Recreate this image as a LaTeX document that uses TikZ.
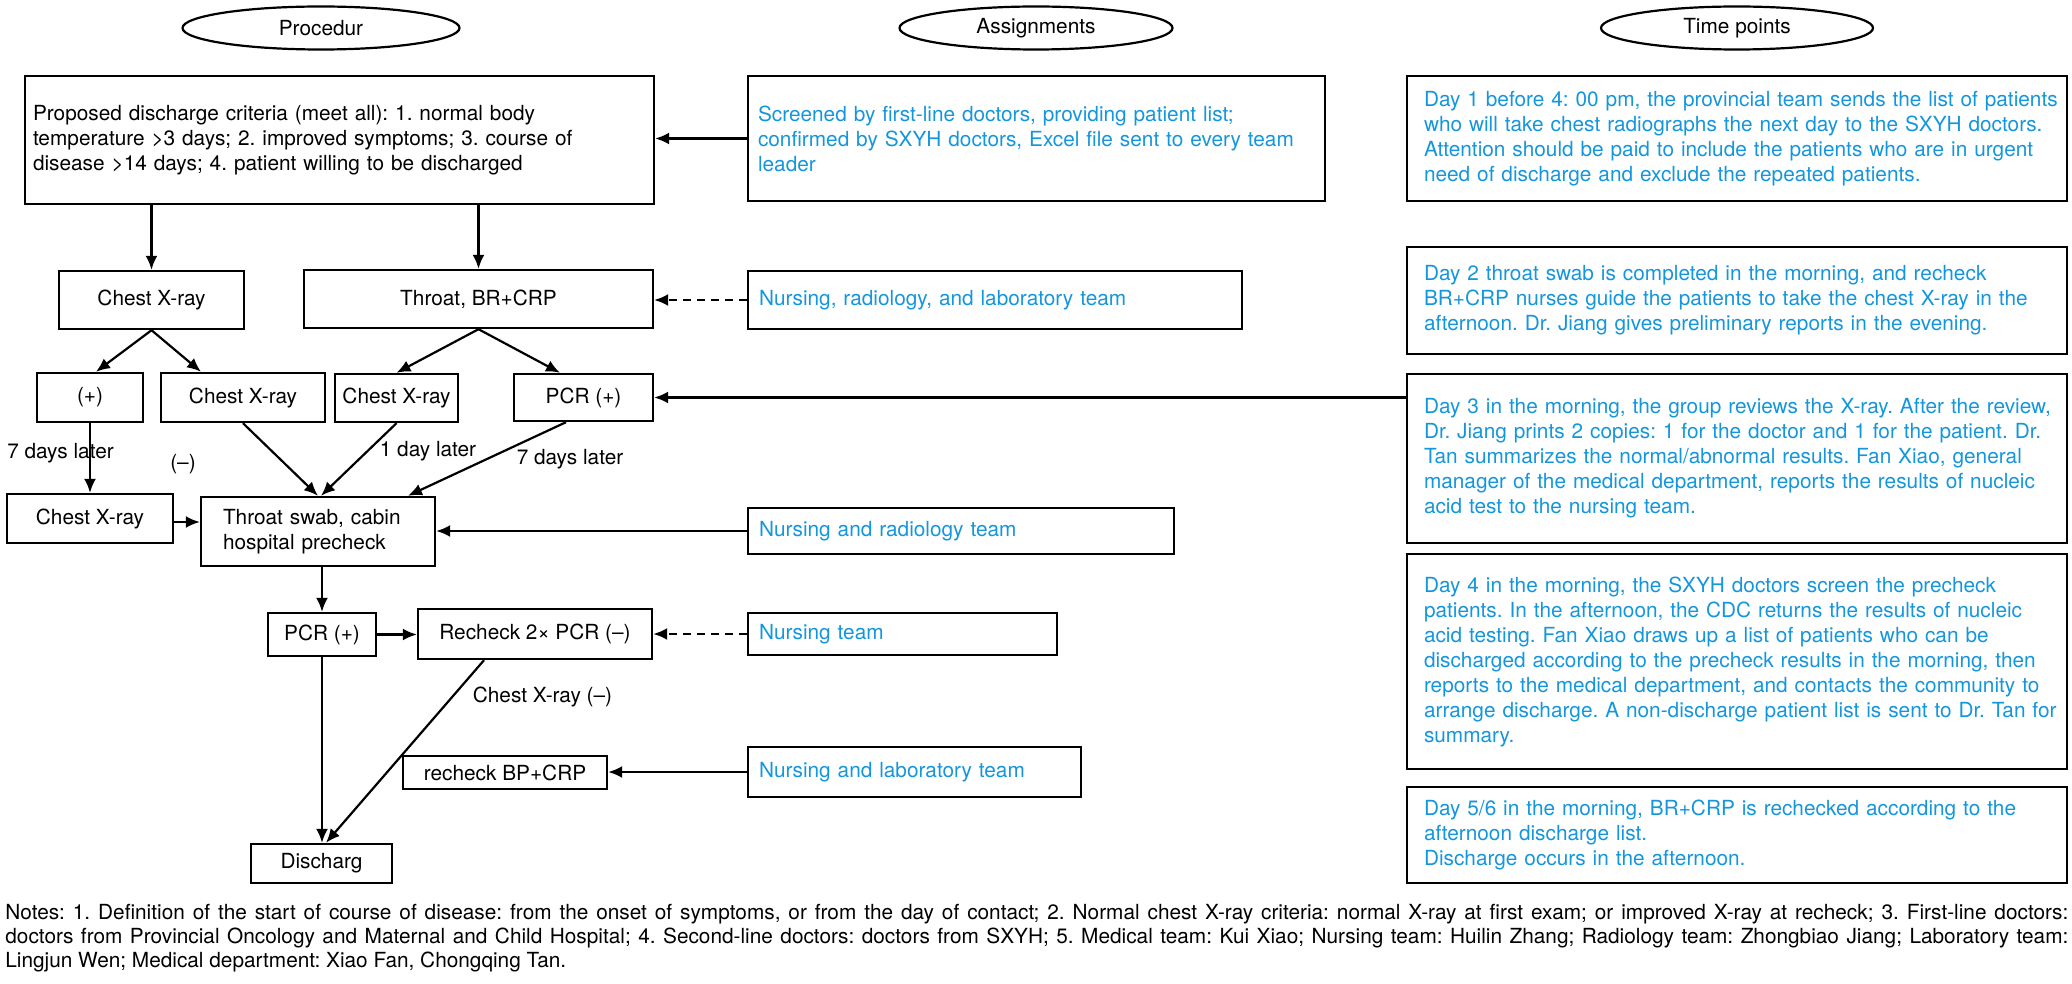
\documentclass[tikz,border=0pt]{standalone}
\usepackage{fontspec}
\setmainfont{TeX Gyre Heros}
\usetikzlibrary{arrows.meta,shapes.geometric}
\definecolor{tblue}{RGB}{20,150,220}
\newcommand{\mfs}{\fontsize{10.4pt}{12.5pt}\selectfont}
\newcommand{\nfs}{\fontsize{10.4pt}{12pt}\selectfont}
\newcommand{\ml}[1]{\mbox{#1}}
\frenchspacing
\begin{document}
\begin{tikzpicture}[x=0.5pt,y=-0.5pt,
  every node/.style={font=\mfs, inner sep=0pt},
  box/.style={draw, line width=1.2pt},
  sz/.style 2 args={minimum width=#1, minimum height=#2},
  oval/.style={draw, line width=1.1pt, ellipse},
  bbox/.style 2 args={box, text=tblue, align=left, inner xsep=#1, text width=#2},
  kbox/.style 2 args={box, align=left, inner xsep=#1, text width=#2},
  conn/.style={line width=1.1pt, -{Latex[length=7pt,width=6pt]}},
  dconn/.style={conn, dash pattern=on 4pt off 3pt}
]
\useasboundingbox (0,0) rectangle (2072,984);

% header ellipses
\node[oval, sz={138.5pt}{21.5pt}] (e1) at (321,28) {Procedur};
\node[oval, sz={136.5pt}{21.5pt}] (e2) at (1036,28) {Assignments};
\node[oval, sz={136pt}{21.5pt}] (e3) at (1737,28) {Time points};

% row 1
\node[kbox={4pt}{306.5pt}, sz={314.5pt}{64pt}] (crit) at (339.5,140) {\ml{Proposed discharge criteria (meet all): 1. normal body}\\\ml{temperature >3 days; 2. improved symptoms; 3. course of}\\\ml{disease >14 days; 4. patient willing to be discharged}};
\node[bbox={5pt}{278.5pt}, sz={288.5pt}{62.5pt}] (scr) at (1036.5,138.5) {\ml{Screened by first-line doctors, providing patient list;}\\\ml{confirmed by SXYH doctors, Excel file sent to every team}\\\ml{leader}};
\node[bbox={8.5pt}{313pt}, sz={330pt}{62.5pt}] (day1) at (1737,138.5) {\ml{Day 1 before 4: 00 pm, the provincial team sends the list of patients}\\\ml{who will take chest radiographs the next day to the SXYH doctors.}\\\ml{Attention should be paid to include the patients who are in urgent}\\\ml{need of discharge and exclude the repeated patients.}};

% row 2
\node[box, sz={92.5pt}{29pt}] (cx1) at (151.5,300) {Chest X-ray};
\node[box, sz={174.5pt}{29pt}] (thr) at (478.5,299) {Throat, BR+CRP};
\node[bbox={5.5pt}{236pt}, sz={247pt}{29pt}] (nrl) at (995,300) {Nursing, radiology, and laboratory team};
\node[bbox={8.5pt}{313pt}, sz={330pt}{53.5pt}] (day2) at (1737,300.5) {\ml{Day 2 throat swab is completed in the morning, and recheck}\\\ml{BR+CRP nurses guide the patients to take the chest X-ray in the}\\\ml{afternoon. Dr. Jiang gives preliminary reports in the evening.}};

% row 3
\node[box, sz={53pt}{24.5pt}] (pos) at (90,397.5) {(+)};
\node[box, sz={82pt}{24.5pt}] (cx2) at (243,397.5) {Chest X-ray};
\node[box, sz={61.5pt}{24pt}] (cx3) at (396.5,398) {Chest X-ray};
\node[box, sz={69.5pt}{23.5pt}] (pcr1) at (583.5,397.5) {PCR (+)};
\node[bbox={8.5pt}{313pt}, sz={330pt}{84.5pt}] (day3) at (1737,458.5) {\ml{Day 3 in the morning, the group reviews the X-ray. After the review,}\\\ml{Dr. Jiang prints 2 copies: 1 for the doctor and 1 for the patient. Dr.}\\\ml{Tan summarizes the normal/abnormal results. Fan Xiao, general}\\\ml{manager of the medical department, reports the results of nucleic}\\\ml{acid test to the nursing team.}};

% row 4
\node[box, sz={83pt}{24.5pt}] (cx4) at (90,518.5) {Chest X-ray};
\node[kbox={11pt}{95pt}, sz={117pt}{34.5pt}] (ts) at (318,531.5) {\ml{Throat swab, cabin}\\\ml{hospital precheck}};
\node[bbox={5.5pt}{202pt}, sz={213pt}{23pt}] (nr) at (961,531) {Nursing and radiology team};
\node[bbox={8.5pt}{313pt}, sz={330pt}{107.5pt}] (day4) at (1737,661.5) {\ml{Day 4 in the morning, the SXYH doctors screen the precheck}\\\ml{patients. In the afternoon, the CDC returns the results of nucleic}\\\ml{acid testing. Fan Xiao draws up a list of patients who can be}\\\ml{discharged according to the precheck results in the morning, then}\\\ml{reports to the medical department, and contacts the community to}\\\ml{arrange discharge. A non-discharge patient list is sent to Dr. Tan for}\\\ml{summary.}};

% row 5
\node[box, sz={54pt}{21.5pt}] (pcr2) at (322,634.5) {PCR (+)};
\node[box, sz={117pt}{25pt}] (rchk) at (535,634) {Recheck 2× PCR (–)};
\node[bbox={5.5pt}{143.5pt}, sz={154.5pt}{21pt}] (nt) at (902.5,634) {Nursing team};

% row 6
\node[box, sz={102pt}{16.5pt}] (bp) at (505,772.5) {recheck BP+CRP};
\node[bbox={5.5pt}{155.5pt}, sz={166.5pt}{25pt}] (nl) at (914.5,772) {Nursing and laboratory team};
\node[bbox={8.5pt}{313pt}, sz={330pt}{48pt}] (day56) at (1737,835) {\ml{Day 5/6 in the morning, BR+CRP is rechecked according to the}\\\ml{afternoon discharge list.}\\\ml{Discharge occurs in the afternoon.}};

% row 7
\node[box, sz={70.5pt}{19.5pt}] (dis) at (321.5,863.5) {Discharg};

% labels
\node (l7a) at (60.5,453) {7 days later};
\node (lneg) at (183,464) {(–)};
\node (l1d) at (428,451) {1 day later};
\node (l7b) at (570,459) {7 days later};
\node (lcx) at (542.5,697) {Chest X-ray (–)};

% connectors
\draw[conn] (cx1.north |- crit.south) -- (cx1.north);
\draw[conn] (thr.north |- crit.south) -- (thr.north);
\draw[conn] (scr.west) -- (scr.west -| crit.east);
\draw[dconn] (nrl.west) -- (nrl.west -| thr.east);
\draw[conn] (cx1.south) -- ([xshift=3pt]pos.north);
\draw[conn] (cx1.south) -- ([xshift=-21pt]cx2.north);
\draw[conn] (thr.south) -- (cx3.north);
\draw[conn] (thr.south) -- ([xshift=-11.75pt]pcr1.north);
\draw[conn] (pos.south) -- (cx4.north);
\draw[conn] ([yshift=-1.75pt]cx4.east) -- ([yshift=-1.75pt]cx4.east -| ts.west);
\draw[conn] (cx2.south) -- (ts.north);
\draw[conn] (cx3.south) -- ([xshift=1.5pt]ts.north);
\draw[conn] ([xshift=-8.75pt]pcr1.south) -- ([xshift=45pt]ts.north);
\draw[conn] (nr.west) -- (nr.west -| ts.east);
\draw[conn] (pcr1.east -| day3.west) -- (pcr1.east);
\draw[conn] (pcr2.north |- ts.south) -- (pcr2.north);
\draw[conn] (pcr2.east) -- (pcr2.east -| rchk.west);
\draw[dconn] (nt.west) -- (nt.west -| rchk.east);
\draw[conn] (pcr2.south) -- (pcr2.south |- dis.north);
\draw[conn] ([xshift=-25.5pt]rchk.south) -- ([xshift=2.25pt]dis.north);
\draw[conn] (nl.west) -- (nl.west -| bp.east);

% notes
\node[anchor=north west, align=left, font=\nfs] (notes) at (5,904) {%
\makebox[1031.5pt][s]{Notes: 1. Definition of the start of course of disease: from the onset of symptoms, or from the day of contact; 2. Normal chest X-ray criteria: normal X-ray at first exam; or improved X-ray at recheck; 3. First-line doctors:}\\
\makebox[1031.5pt][s]{doctors from Provincial Oncology and Maternal and Child Hospital; 4. Second-line doctors: doctors from SXYH; 5. Medical team: Kui Xiao; Nursing team: Huilin Zhang; Radiology team: Zhongbiao Jiang; Laboratory team:}\\
Lingjun Wen; Medical department: Xiao Fan, Chongqing Tan.};
\end{tikzpicture}
\end{document}
